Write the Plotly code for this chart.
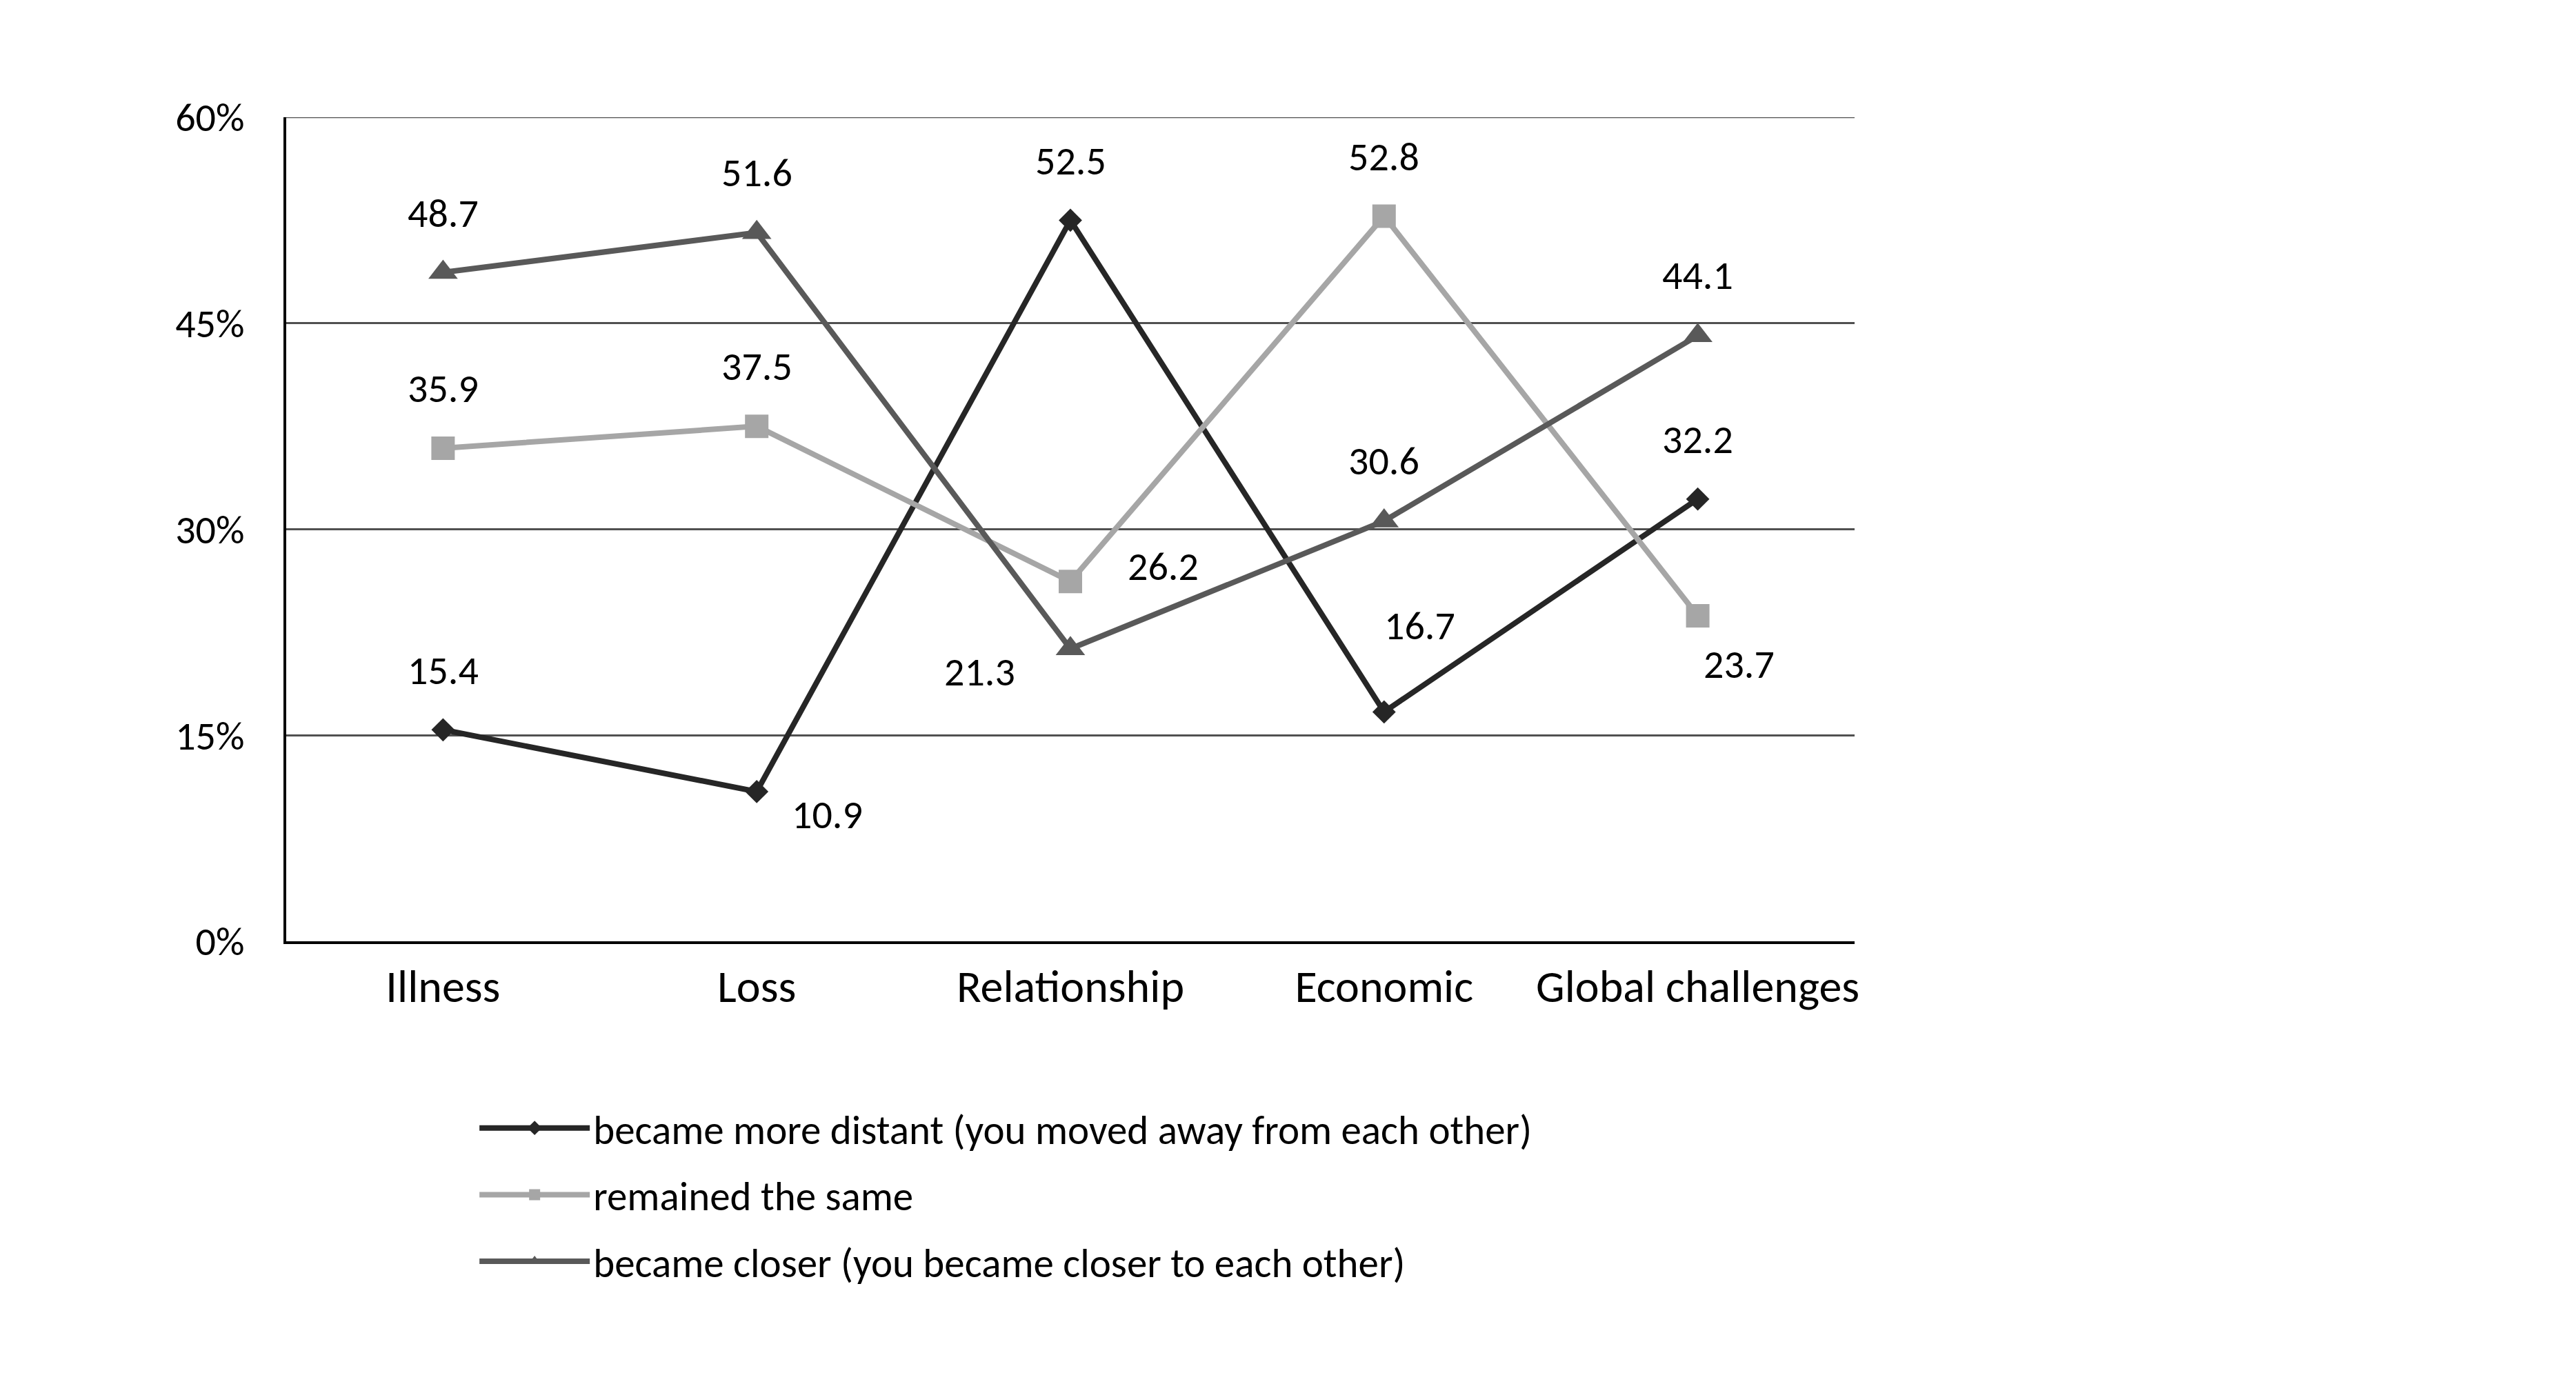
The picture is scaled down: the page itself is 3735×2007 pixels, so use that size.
import plotly.graph_objects as go

categories = ["Illness", "Loss", "Relationship", "Economic", "Global challenges"]
series_names = [
    "became more distant (you moved away from each other)",
    "remained the same",
    "became closer (you became closer to each other)",
]
distant = [15.4, 10.9, 52.5, 16.7, 32.2]
same = [35.9, 37.5, 26.2, 52.8, 23.7]
closer = [48.7, 51.6, 21.3, 30.6, 44.1]
y_ticks = [0, 15, 30, 45, 60]
y_tick_labels = ["0%", "15%", "30%", "45%", "60%"]

# style
colors = ["#262626", "#a6a6a6", "#595959"]
symbols = ["diamond", "square", "triangle-up"]
msizes = [26, 34, 37]
# label offsets (pixels) for each point of each series
label_shift = [
    [(0, 86), (102, -34), (0, 86), (52, 125), (0, 86)],
    [(0, 86), (0, 87), (134, 22), (0, 86), (60, -71)],
    [(0, 86), (0, 87), (-132, -34), (0, 87), (0, 87)],
]

FONT = "Carlito, Calibri, Lato, sans-serif"

fig = go.Figure()
all_series = [distant, same, closer]
for i, vals in enumerate(all_series):
    fig.add_trace(go.Scatter(
        x=categories, y=vals, name=series_names[i], mode="lines+markers",
        line=dict(color=colors[i], width=8),
        marker=dict(symbol=symbols[i], size=msizes[i], color=colors[i]),
        legendgroup=str(i),
    ))

annotations = []
for i, vals in enumerate(all_series):
    for j, v in enumerate(vals):
        dx, dy = label_shift[i][j]
        annotations.append(dict(
            x=categories[j], y=v, text=f"{v:.1f}", showarrow=False,
            xshift=dx, yshift=dy, font=dict(family=FONT, size=58, color="#000000"),
        ))

fig.update_layout(
    width=3735, height=2007,
    paper_bgcolor="white", plot_bgcolor="white",
    margin=dict(l=407, r=1054, t=162, b=650),
    font=dict(family=FONT, color="#000000"),
    annotations=annotations,
    showlegend=True,
    legend=dict(
        x=0.121, y=-0.189, xanchor="left", yanchor="top",
        font=dict(family=FONT, size=59, color="#000000"),
        itemwidth=160, tracegroupgap=17, bgcolor="rgba(0,0,0,0)",
    ),
)
fig.update_xaxes(
    type="category", range=[-0.5, 4.5],
    showline=True, linecolor="#000000", linewidth=4,
    showgrid=False, ticks="", ticklabelstandoff=5,
    tickfont=dict(family=FONT, size=66, color="#000000"),
)
fig.update_yaxes(
    range=[0, 60], tickvals=y_ticks, ticktext=y_tick_labels,
    showline=True, linecolor="#000000", linewidth=4,
    showgrid=True, gridcolor="#505050", gridwidth=2.5,
    zeroline=False, ticks="", ticklabelstandoff=45,
    tickfont=dict(family=FONT, size=58, color="#000000"),
)
fig.add_shape(type="line", xref="paper", yref="y", x0=0, x1=1, y0=60, y1=60,
              line=dict(color="#505050", width=2.5), layer="below")

fig.write_html("out.html")
